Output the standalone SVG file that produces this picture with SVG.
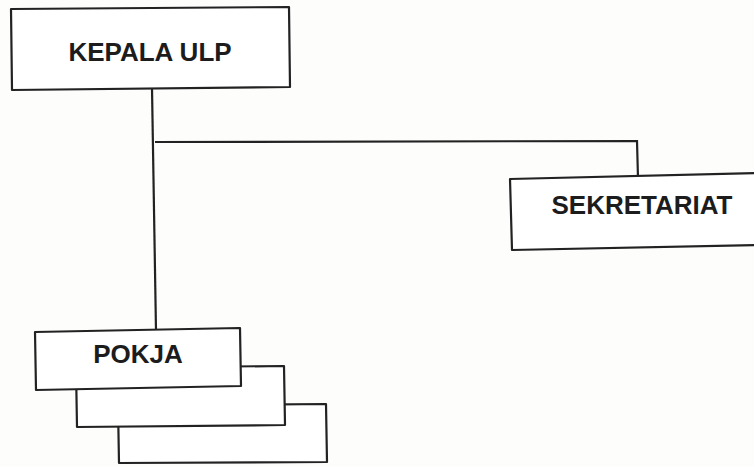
<svg xmlns="http://www.w3.org/2000/svg" width="754" height="466" viewBox="0 0 754 466">
<style>
.box{fill:#fff;stroke:#222;stroke-width:2.2;stroke-linejoin:round}
.ln{fill:none;stroke:#222;stroke-width:2.2}
.t{font-family:"Liberation Sans",Arial,sans-serif;font-weight:bold;font-size:26px;fill:#1c1c1c;text-anchor:middle}
</style>
<rect width="754" height="466" fill="#fdfdfc"/>
<g id="connectors">
<path class="ln" d="M152 88 L156 331"/>
<path class="ln" d="M155 142 L637 141 L638 178"/>
</g>
<g id="kepala">
<polygon class="box" points="11,9 289,7 290,87 12,90"/>
<text class="t" x="150" y="61">KEPALA ULP</text>
</g>
<g id="sekretariat">
<polygon class="box" points="510,179 756,173 756,245 512,250"/>
<text class="t" x="642" y="214">SEKRETARIAT</text>
</g>
<g id="pokja">
<polygon class="box" points="118,406 326,404 327,462 119,463"/>
<polygon class="box" points="76,368 284,366 285,425 77,427"/>
<polygon class="box" points="35,332 240,328 241,386 36,390"/>
<text class="t" x="138" y="363">POKJA</text>
</g>
</svg>
